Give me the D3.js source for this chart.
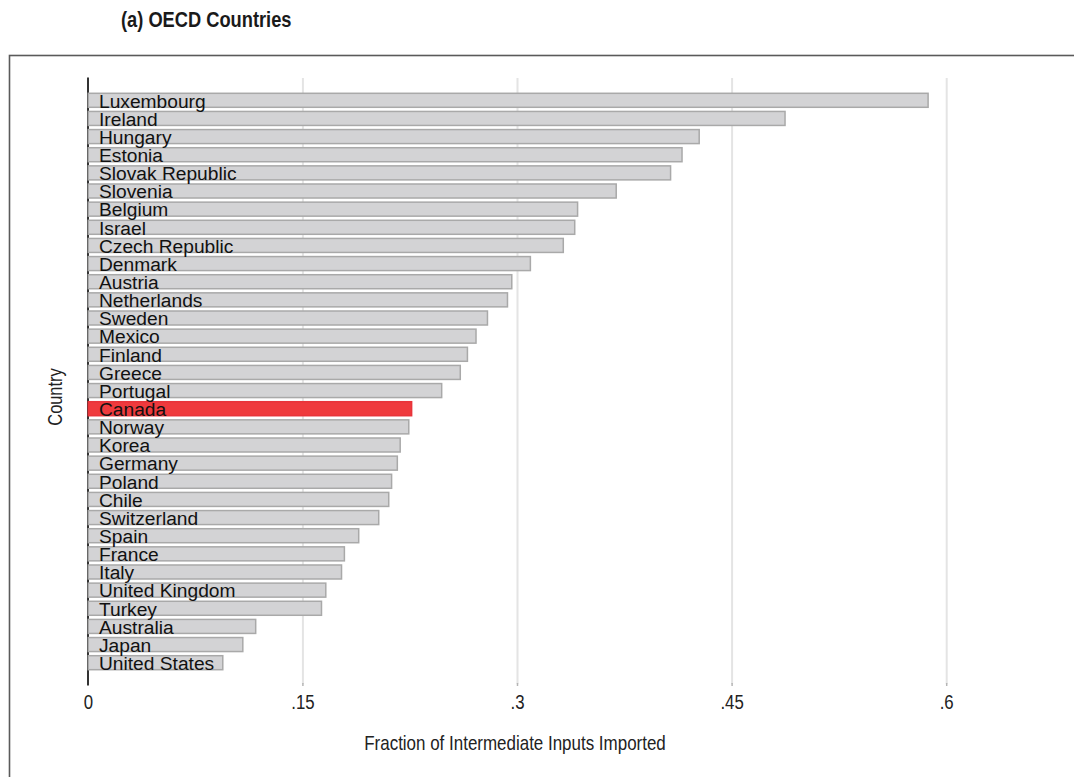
<!DOCTYPE html>
<html>
<head>
<meta charset="utf-8">
<script src="https://cdn.jsdelivr.net/npm/d3@7"></script>
<style>
  html, body { margin: 0; padding: 0; background: #fff; }
  svg { display: block; }
</style>
</head>
<body>
<svg id="chart" width="1074" height="777"></svg>
<script>
const countries = ["Luxembourg","Ireland","Hungary","Estonia","Slovak Republic","Slovenia","Belgium","Israel","Czech Republic","Denmark","Austria","Netherlands","Sweden","Mexico","Finland","Greece","Portugal","Canada","Norway","Korea","Germany","Poland","Chile","Switzerland","Spain","France","Italy","United Kingdom","Turkey","Australia","Japan","United States"];
const values = [0.587,0.487,0.427,0.415,0.407,0.369,0.342,0.340,0.332,0.309,0.296,0.293,0.279,0.271,0.265,0.260,0.247,0.226,0.224,0.218,0.216,0.212,0.210,0.203,0.189,0.179,0.177,0.166,0.163,0.117,0.108,0.094];
const highlight = "Canada";
const tickValues = [0, 0.15, 0.3, 0.45, 0.6];
const tickLabels = ["0", ".15", ".3", ".45", ".6"];
const titleText = "(a) OECD Countries";
const xTitle = "Fraction of Intermediate Inputs Imported";
const yTitle = "Country";

const font = "'Liberation Sans', Arial, Helvetica, sans-serif";
const narrowScale = 0.82;

const svg = d3.select("#chart");

// outer frame
svg.append("rect")
  .attr("x", 9.5).attr("y", 55.5)
  .attr("width", 1200).attr("height", 900)
  .attr("fill", "none").attr("stroke", "#5a5a5a").attr("stroke-width", 1.6);

// title (condensed bold)
svg.append("text")
  .attr("transform", "translate(121,27) scale(0.85,1)")
  .attr("font-family", font).attr("font-weight", "bold").attr("font-size", 21.5)
  .attr("fill", "#1a1a1a")
  .text(titleText);

const x = d3.scaleLinear().domain([0, 0.6]).range([88.3, 946.7]);
const y = d3.scaleBand().domain(countries).range([78, 685])
  .paddingInner(0.228).paddingOuter(0.843);

// gridlines
svg.append("g").selectAll("line").data(tickValues.filter(d => d > 0)).join("line")
  .attr("x1", d => x(d)).attr("x2", d => x(d))
  .attr("y1", 78).attr("y2", 684)
  .attr("stroke", "#e4e4e4").attr("stroke-width", 2);
svg.append("g").selectAll("line").data(tickValues.filter(d => d > 0)).join("line")
  .attr("x1", d => x(d)).attr("x2", d => x(d))
  .attr("y1", 683).attr("y2", 686)
  .attr("stroke", "#b5b5b5").attr("stroke-width", 1.5);

// y axis line
svg.append("line")
  .attr("x1", 88).attr("x2", 88).attr("y1", 77.5).attr("y2", 685.5)
  .attr("stroke", "#333").attr("stroke-width", 2);

// bars
const data = countries.map((c, i) => ({ c, v: values[i] }));
svg.append("g").selectAll("rect").data(data).join("rect")
  .attr("x", x(0)).attr("y", d => y(d.c))
  .attr("width", d => x(d.v) - x(0)).attr("height", y.bandwidth())
  .attr("fill", d => d.c === highlight ? "#ef3a3d" : "#d3d3d5")
  .attr("stroke", d => d.c === highlight ? "#e8343a" : "#a9a9a9")
  .attr("stroke-width", 1.5);

// bar labels
svg.append("g").selectAll("text").data(data).join("text")
  .attr("x", 99).attr("y", d => y(d.c) + y.bandwidth() + 0.3)
  .attr("font-family", font).attr("font-size", 19.2)
  .attr("fill", "#111")
  .text(d => d.c);

// x tick labels (condensed)
svg.append("g").selectAll("text").data(tickValues).join("text")
  .attr("transform", d => `translate(${x(d)},709) scale(${narrowScale},1)`)
  .attr("text-anchor", "middle")
  .attr("font-family", font).attr("font-size", 20.5)
  .attr("fill", "#222")
  .text((d, i) => tickLabels[i]);

// x title
svg.append("text")
  .attr("transform", `translate(515,750) scale(${narrowScale},1)`)
  .attr("text-anchor", "middle")
  .attr("font-family", font).attr("font-size", 20.7)
  .attr("fill", "#222")
  .text(xTitle);

// y title
svg.append("text")
  .attr("transform", `translate(62,397) rotate(-90) scale(${narrowScale},1)`)
  .attr("text-anchor", "middle")
  .attr("font-family", font).attr("font-size", 20)
  .attr("fill", "#222")
  .text(yTitle);
</script>
</body>
</html>
